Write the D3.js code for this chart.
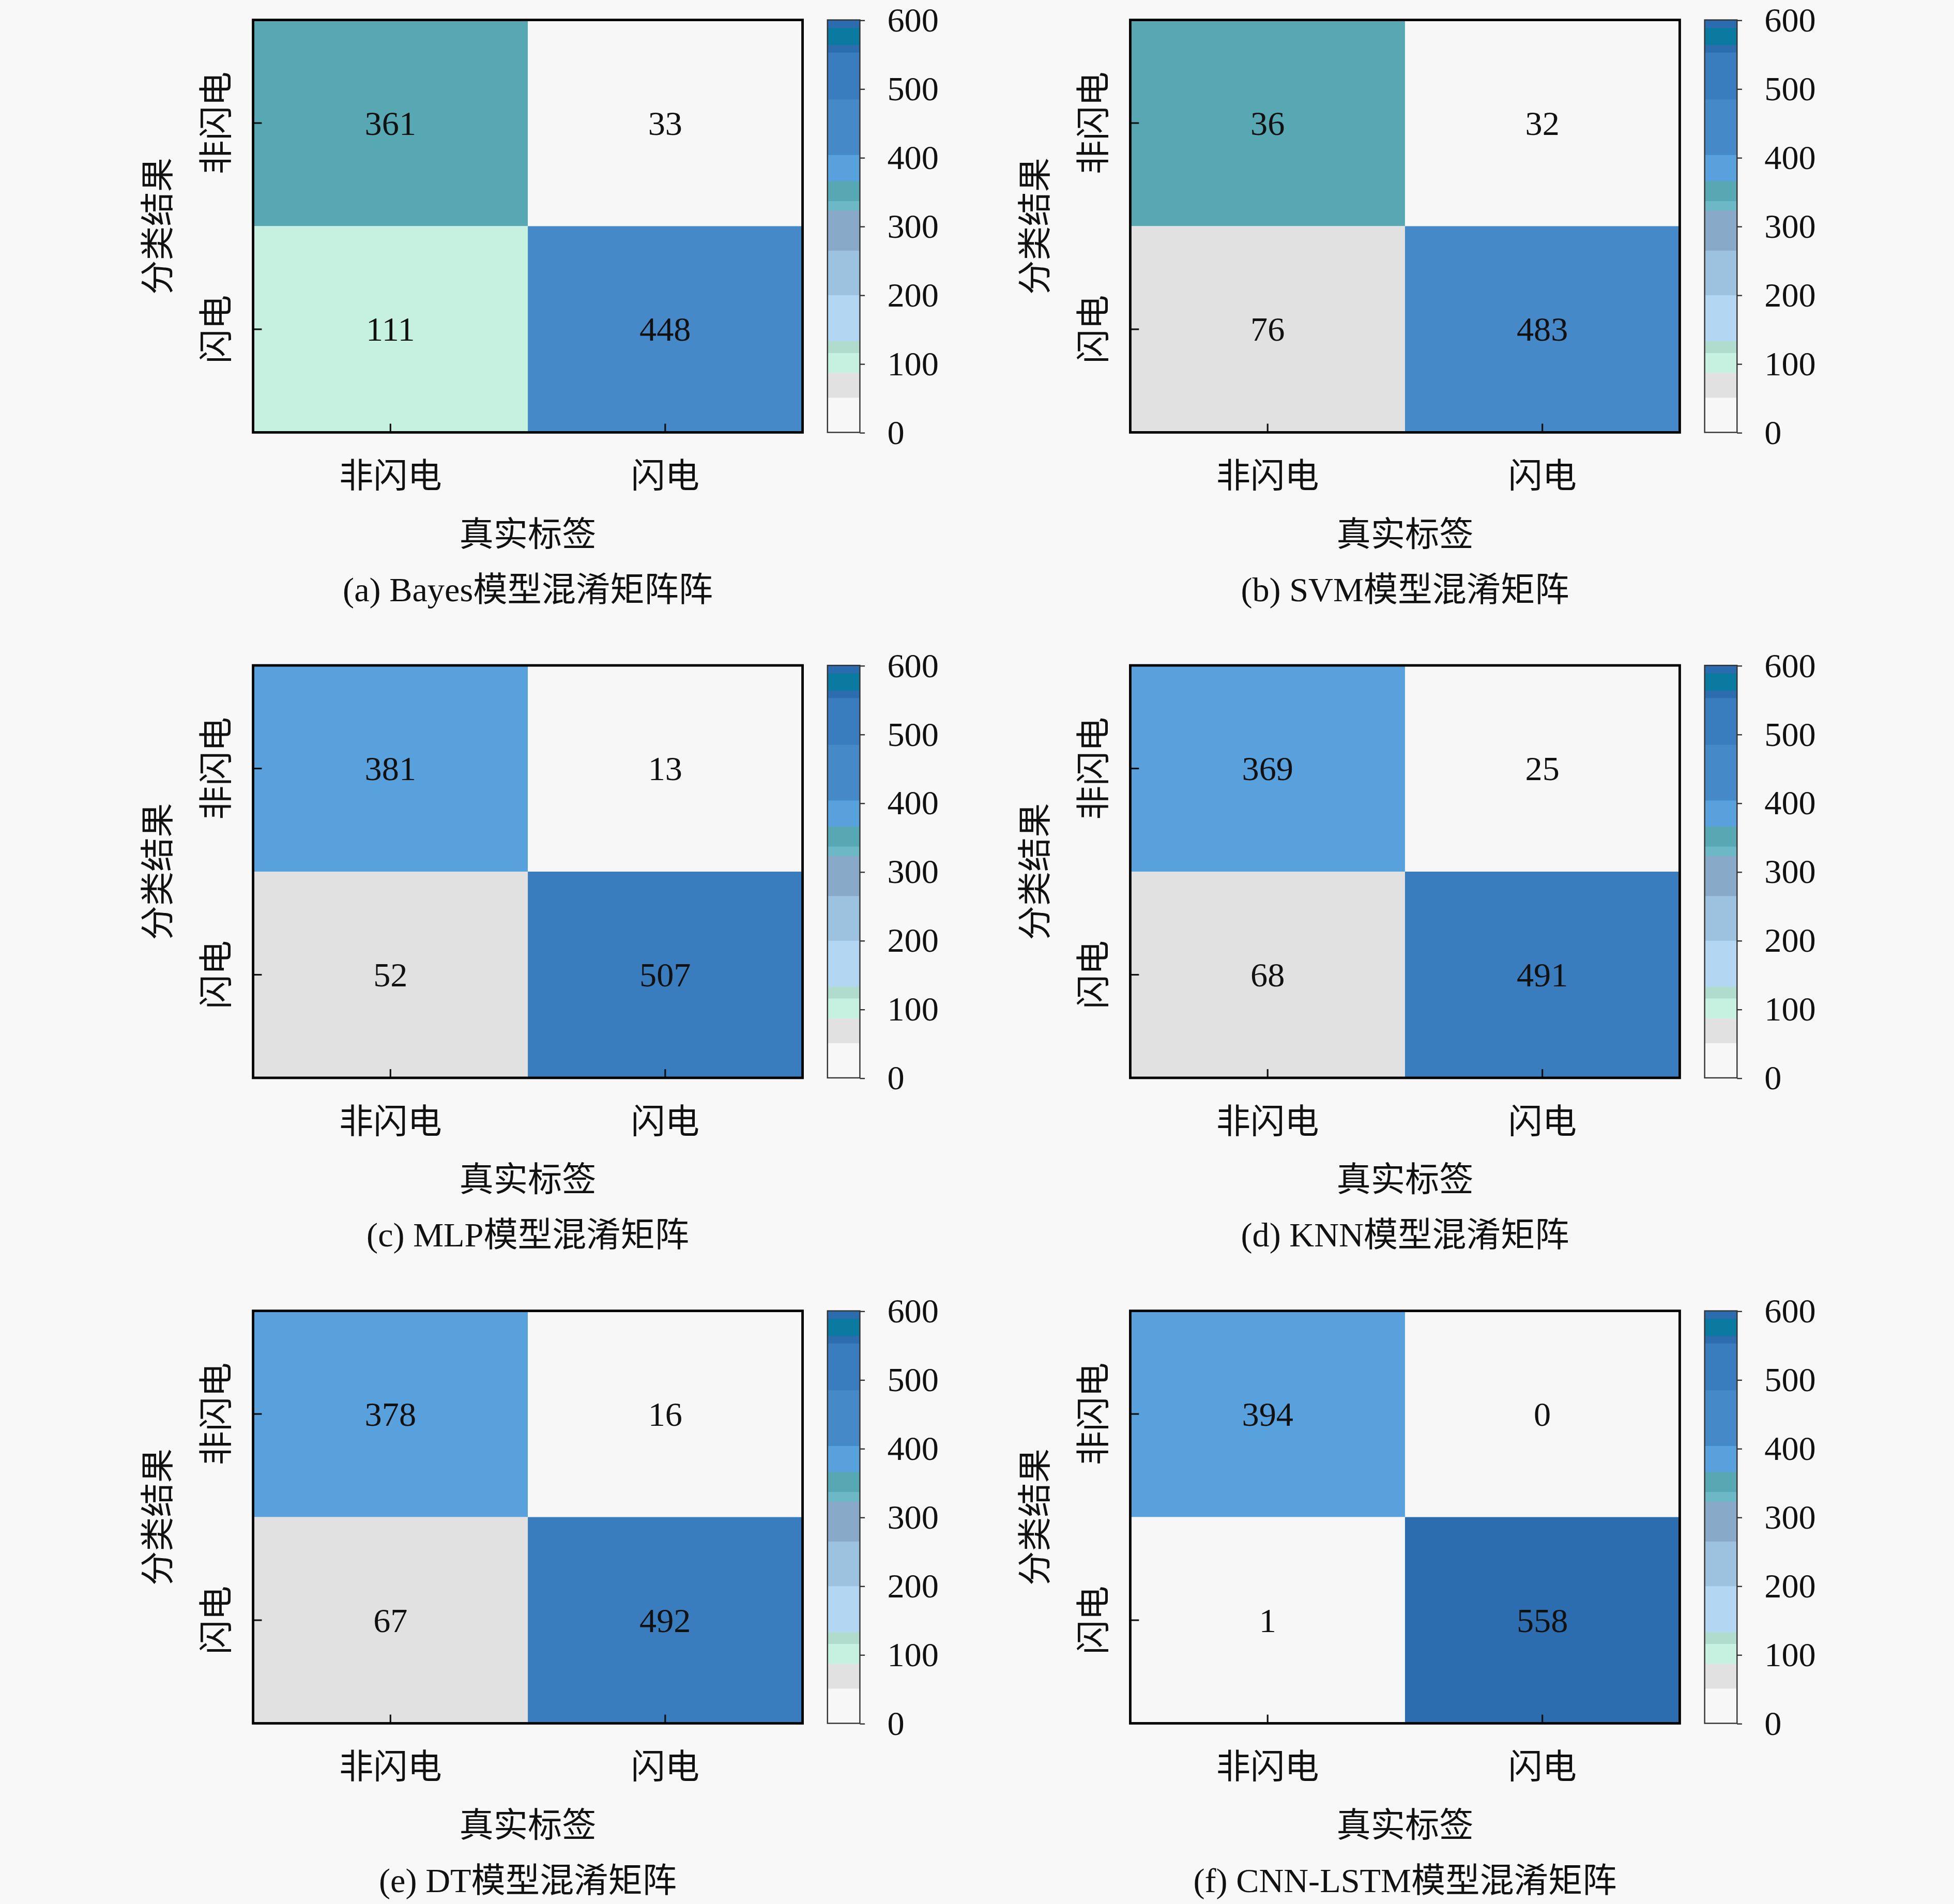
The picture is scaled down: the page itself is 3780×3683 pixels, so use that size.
<!DOCTYPE html>
<html>
<head>
<meta charset="utf-8">
<script src="https://cdn.jsdelivr.net/npm/d3@7"></script>
<style>
body { margin: 0; background: #f8f8f8; }
text { font-family: "Liberation Serif", "Noto Sans CJK SC", serif; fill: #111; }
</style>
</head>
<body>
<div id="canvas"></div>
<script>
// ----------------------------------------------------------
// DATA -----------------------------------------------------
// ----------------------------------------------------------
var categories = ["非闪电", "闪电"];

var panel_captions = [
"(a) Bayes模型混淆矩阵阵",
"(b) SVM模型混淆矩阵",
"(c) MLP模型混淆矩阵",
"(d) KNN模型混淆矩阵",
"(e) DT模型混淆矩阵",
"(f) CNN-LSTM模型混淆矩阵"
];

// rows = 分类结果 (非闪电, 闪电), cols = 真实标签 (非闪电, 闪电)
var bayes_values = [[361, 33], [111, 448]];
var svm_values = [[361, 32], [76, 483]]; // top-left printed as "36", filled like 361
var mlp_values = [[381, 13], [52, 507]];
var knn_values = [[369, 25], [68, 491]];
var dt_values = [[378, 16], [67, 492]];
var cnn_lstm_values = [[394, 0], [1, 558]];

var svm_labels = [["36", "32"], ["76", "483"]];

var colorbar_ticks = [0, 100, 200, 300, 400, 500, 600];

// discrete colour map
var color_thresholds = [51, 87, 116, 133, 200, 265, 323, 337, 366, 404, 485, 553, 564, 589];
var color_range = ["#f7f7f7", "#e1e1e1", "#c6f1e1", "#b0dccd", "#b3d7f3", "#9dc2e0", "#88a9c8",
"#6cb8c6", "#58a8b4", "#58a1dd", "#4589c8", "#3a7dbf", "#2c6daf", "#0a7aa0", "#2b6cae"];

var data_set =
{
view_width: 1568,
view_height: 1528,
box_left: [203, 907],
box_top: [16, 534, 1052],
box_width: 441,
box_height: 331,
font_size: 27.5
};

var panels = [
{ values: bayes_values },
{ values: svm_values, labels: svm_labels },
{ values: mlp_values },
{ values: knn_values },
{ values: dt_values },
{ values: cnn_lstm_values }
];

// ----------------------------------------------------------
// STRUCTURE ------------------------------------------------
// ----------------------------------------------------------
var container = d3.select("#canvas").append("svg")
.attr("width", 3780)
.attr("height", 3683)
.attr("viewBox", `0 0 ${data_set.view_width} ${data_set.view_height}`)
.style("display", "block")
.style("background-color", "#f8f8f8");

var colorScale = d3.scaleThreshold()
.domain(color_thresholds)
.range(color_range);

var xScale = d3.scaleBand()
.domain(categories)
.range([0, data_set.box_width]);

var yScale = d3.scaleBand()
.domain(categories)
.range([0, data_set.box_height]);

var cbScale = d3.scaleLinear()
.domain([0, 600])
.range([data_set.box_height, 0]);

var fs = data_set.font_size;

// ----------------------------------------------------------
// GFX ------------------------------------------------------
// ----------------------------------------------------------
panels.forEach(function (p, i) {
var left = data_set.box_left[i % 2];
var top = data_set.box_top[Math.floor(i / 2)];
var w = data_set.box_width;
var h = data_set.box_height;

var g = container.append("g")
.attr("class", "gfx_panel")
.attr("transform", `translate(${left}, ${top})`);

// cells
var cells = [];
categories.forEach(function (r, ri) {
categories.forEach(function (c, ci) {
cells.push({
row: r,
col: c,
value: p.values[ri][ci],
label: p.labels ? p.labels[ri][ci] : String(p.values[ri][ci])
});
});
});

g.selectAll(".gfx_cell")
.data(cells)
.enter()
.append("rect")
.attr("class", "gfx_cell")
.attr("x", (d) => xScale(d.col))
.attr("y", (d) => yScale(d.row))
.attr("width", xScale.bandwidth())
.attr("height", yScale.bandwidth())
.style("fill", (d) => colorScale(d.value));

g.selectAll(".gfx_cell_value")
.data(cells)
.enter()
.append("text")
.attr("class", "gfx_cell_value")
.attr("x", (d) => xScale(d.col) + xScale.bandwidth() / 2)
.attr("y", (d) => yScale(d.row) + yScale.bandwidth() / 2)
.attr("text-anchor", "middle")
.attr("dominant-baseline", "central")
.style("font-size", fs + "px")
.text((d) => d.label);

// axes: inward ticks, no domain line
var xAxis = g.append("g")
.attr("class", "gfx_scale_bottom")
.attr("transform", `translate(0, ${h})`)
.call(d3.axisBottom(xScale).tickSize(-7).tickPadding(21));
var yAxis = g.append("g")
.attr("class", "gfx_scale_left")
.call(d3.axisLeft(yScale).tickSize(-7).tickFormat(""));
[xAxis, yAxis].forEach(function (a) {
a.select(".domain").remove();
a.selectAll("line").attr("stroke", "#111").attr("stroke-width", 1.3);
});
xAxis.selectAll("text")
.attr("dy", "0.85em")
.style("font-size", fs + "px")
.style("font-family", "'Noto Sans CJK SC', sans-serif")
.style("fill", "#111");

// y tick labels rotated
g.selectAll(".gfx_ylabel")
.data(categories)
.enter()
.append("text")
.attr("class", "gfx_ylabel")
.attr("transform", (d) => `translate(-32, ${yScale(d) + yScale.bandwidth() / 2}) rotate(-90)`)
.attr("text-anchor", "middle")
.attr("dominant-baseline", "central")
.style("font-size", fs + "px")
.style("font-family", "'Noto Sans CJK SC', sans-serif")
.text((d) => d);

// frame
g.append("rect")
.attr("width", w)
.attr("height", h)
.attr("fill", "none")
.attr("stroke", "#000")
.attr("stroke-width", 2);

// axis titles and caption
g.append("text")
.attr("transform", `translate(-79, ${h / 2}) rotate(-90)`)
.attr("text-anchor", "middle")
.attr("dominant-baseline", "central")
.style("font-size", fs + "px")
.style("font-family", "'Noto Sans CJK SC', sans-serif")
.text("分类结果");

g.append("text")
.attr("x", w / 2)
.attr("y", h + 79)
.attr("text-anchor", "middle")
.attr("dominant-baseline", "central")
.style("font-size", fs + "px")
.style("font-family", "'Noto Sans CJK SC', sans-serif")
.text("真实标签");

g.append("text")
.attr("x", w / 2)
.attr("y", h + 126)
.attr("text-anchor", "middle")
.attr("dominant-baseline", "central")
.style("font-size", fs + "px")
.text(panel_captions[i]);

// COLORBAR ---------------------------------------------
var cb = g.append("g")
.attr("class", "gfx_colorbar")
.attr("transform", `translate(461, 0)`);

var bands = [0].concat(color_thresholds).map(function (lo, k, arr) {
return { lo: lo, hi: k + 1 < arr.length ? arr[k + 1] : 600, color: color_range[k] };
});

cb.selectAll("rect.band")
.data(bands)
.enter()
.append("rect")
.attr("class", "band")
.attr("x", 0)
.attr("width", 26)
.attr("y", (d) => cbScale(d.hi))
.attr("height", (d) => cbScale(d.lo) - cbScale(d.hi) + 0.3)
.style("fill", (d) => d.color);

cb.append("rect")
.attr("width", 26)
.attr("height", h)
.attr("fill", "none")
.attr("stroke", "#333")
.attr("stroke-width", 1);

var cbAxis = cb.append("g")
.attr("transform", `translate(26, 0)`)
.call(d3.axisRight(cbScale).tickValues(colorbar_ticks).tickSize(4).tickPadding(18));
cbAxis.select(".domain").remove();
cbAxis.selectAll("line").attr("stroke", "#333");
cbAxis.selectAll("text")
.style("font-size", fs + "px")
.style("fill", "#111");
});
</script>
</body>
</html>
